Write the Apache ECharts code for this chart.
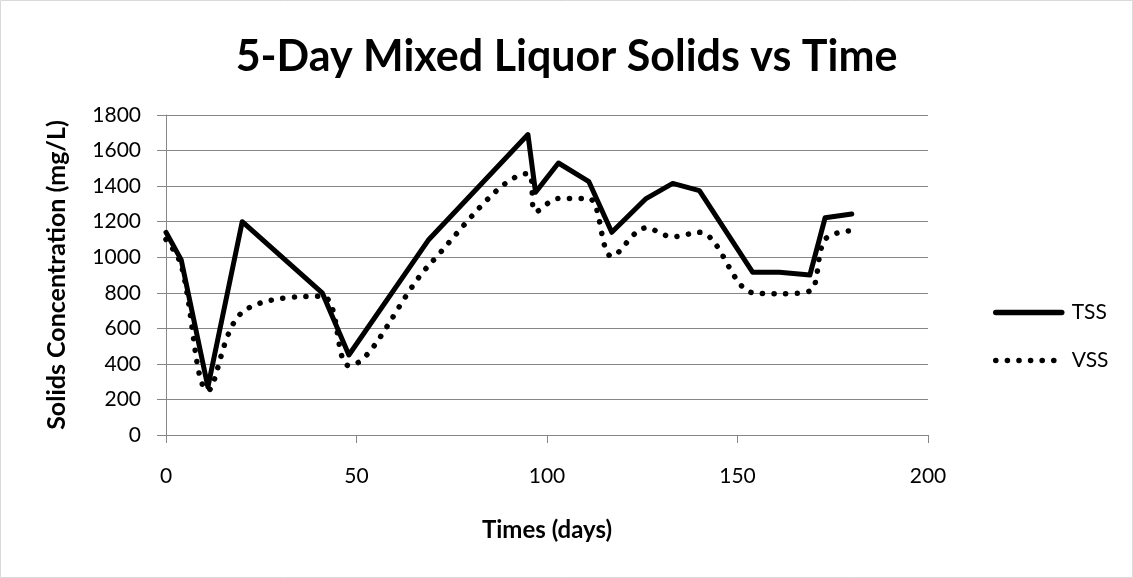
<!DOCTYPE html>
<html>
<head>
<meta charset="utf-8">
<script src="https://cdn.jsdelivr.net/npm/echarts@6/dist/echarts.min.js"></script>
<style>
  html, body { margin: 0; padding: 0; background: #fff; }
  #main { width: 1133px; height: 578px; }
</style>
</head>
<body>
<div id="main"></div>
<script>
// data
var days = [0, 4, 11, 20, 41, 48, 69, 95, 97, 103, 111, 117, 126, 133, 140, 154, 161, 169, 173, 180];
var tss  = [1140, 985, 270, 1200, 800, 450, 1100, 1690, 1365, 1530, 1425, 1140, 1330, 1415, 1375, 915, 915, 900, 1222, 1243];
var vss  = [1100, 955, 250, 690, 780, 390, 955, 1470, 1255, 1330, 1330, 1005, 1165, 1115, 1140, 800, 795, 810, 1100, 1150];

function pairs(xs, ys) {
  var out = [];
  for (var i = 0; i < xs.length; i++) out.push([xs[i], ys[i]]);
  return out;
}

var font = 'Lato, "Open Sans", sans-serif';
var chart = echarts.init(document.getElementById('main'));

var option = {
  animation: false,
  title: {
    text: '5-Day Mixed Liquor Solids vs Time',
    left: 'center',
    top: 31,
    textStyle: { fontFamily: font, fontSize: 43, fontWeight: 'bold', color: '#000' }
  },
  grid: { left: 166, right: 205, top: 115, bottom: 143 },
  legend: {
    orient: 'vertical',
    left: 988,
    top: 297,
    itemWidth: 66,
    itemHeight: 14,
    itemGap: 27,
    itemStyle: { opacity: 0 },
    lineStyle: { width: 5.5, cap: 'round' },
    textStyle: { fontFamily: font, fontSize: 21, color: '#000', padding: [0, 0, 0, 5] },
    data: ['TSS', 'VSS']
  },
  xAxis: {
    type: 'value',
    min: 0, max: 200, interval: 50,
    name: 'Times (days)',
    nameLocation: 'middle',
    nameGap: 83,
    nameTextStyle: { fontFamily: font, fontSize: 24, fontWeight: 'bold', color: '#000' },
    axisLine: { lineStyle: { color: '#868686', width: 1 } },
    axisTick: { show: true, length: 8, lineStyle: { color: '#868686' } },
    axisLabel: { fontFamily: font, fontSize: 21, color: '#000', margin: 31 },
    splitLine: { show: false }
  },
  yAxis: {
    type: 'value',
    min: 0, max: 1800, interval: 200,
    name: 'Solids Concentration (mg/L)',
    nameLocation: 'middle',
    nameGap: 97,
    nameTextStyle: { fontFamily: font, fontSize: 25, fontWeight: 'bold', color: '#000' },
    axisLine: { show: true, lineStyle: { color: '#868686', width: 1 } },
    axisTick: { show: true, length: 9, lineStyle: { color: '#868686' } },
    axisLabel: {
      fontFamily: font, fontSize: 21, color: '#000', margin: 25,
      formatter: function (v) { return String(v); }
    },
    splitLine: { lineStyle: { color: '#868686', width: 1 } }
  },
  series: [
    {
      name: 'TSS',
      type: 'line',
      data: pairs(days, tss),
      symbol: 'none',
      color: '#000',
      lineStyle: { color: '#000', width: 5, join: 'round', cap: 'round' }
    },
    {
      name: 'VSS',
      type: 'line',
      data: pairs(days, vss),
      symbol: 'none',
      smooth: 0.35,
      color: '#000',
      lineStyle: { color: '#000', width: 5.5, type: [0.1, 11.5], cap: 'round' }
    }
  ],
  graphic: [{
    type: 'rect',
    shape: { x: 0.5, y: 0.5, width: 1132, height: 577 },
    style: { fill: null, stroke: '#d9d9d9', lineWidth: 1 },
    silent: true
  }]
};

chart.setOption(option);
</script>
</body>
</html>
